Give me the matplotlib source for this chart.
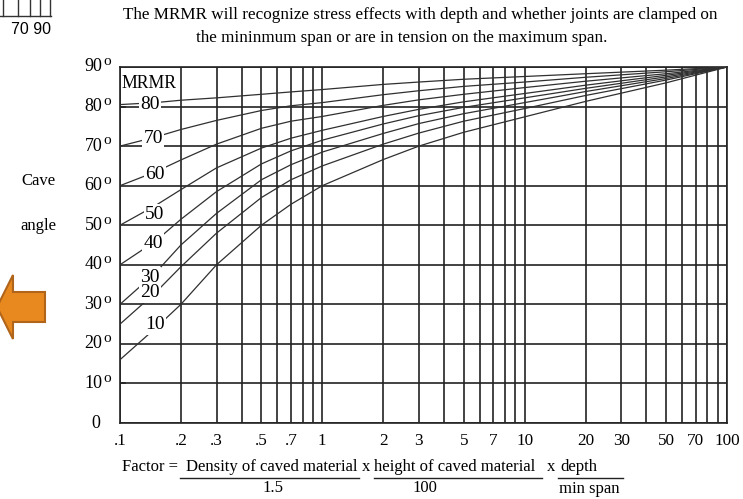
import matplotlib.pyplot as plt
from matplotlib.lines import Line2D
from matplotlib.patches import Polygon

plt.rcParams['font.family'] = ['Liberation Serif', 'DejaVu Serif']

# factor axis (log) and cave angle (degrees) for each MRMR class
factor = [0.1, 0.15, 0.2, 0.3, 0.5, 0.7, 1, 2, 3, 5, 10, 20, 50, 100]
mrmr_80 = [80.5, 81.0, 81.6, 82.2, 83.1, 83.7, 84.3, 85.6, 86.2, 86.9, 87.6, 88.3, 89.2, 90]
mrmr_70 = [70, 72.3, 74.2, 76.5, 79.0, 80.2, 81.0, 83.0, 84.0, 85.1, 86.2, 87.4, 88.8, 90]
mrmr_60 = [60, 63.5, 66.5, 70.5, 74.5, 76.3, 77.5, 80.3, 81.7, 83.1, 84.8, 86.4, 88.3, 90]
mrmr_50 = [50, 55.0, 59.0, 64.5, 69.5, 72.0, 74.0, 77.5, 79.3, 81.2, 83.3, 85.4, 87.9, 90]
mrmr_40 = [40, 46.0, 51.5, 58.5, 65.5, 68.8, 71.5, 75.6, 77.7, 79.8, 82.2, 84.6, 87.5, 90]
mrmr_30 = [30, 38.0, 45.0, 53.0, 61.5, 65.3, 68.5, 73.2, 75.7, 78.2, 81.0, 83.8, 87.1, 90]
mrmr_20 = [25, 33.0, 39.5, 48.0, 57.0, 61.5, 65.0, 70.5, 73.3, 76.3, 79.5, 82.8, 86.7, 90]
mrmr_10 = [16, 24.0, 30.0, 40.0, 50.0, 55.3, 60.0, 66.6, 70.0, 73.5, 77.4, 81.3, 86.0, 90]
curves = [mrmr_80, mrmr_70, mrmr_60, mrmr_50, mrmr_40, mrmr_30, mrmr_20, mrmr_10]

# curve labels: text, factor, angle
label_text = ['80', '70', '60', '50', '40', '30', '20', '10']
label_x = [0.141, 0.146, 0.149, 0.149, 0.146, 0.141, 0.141, 0.149]
label_y = [80.4, 71.8, 62.9, 52.8, 45.5, 36.9, 32.9, 24.8]

x_ticks = [0.1, 0.2, 0.3, 0.5, 0.7, 1, 2, 3, 5, 7, 10, 20, 30, 50, 70, 100]
x_tick_labels = ['.1', '.2', '.3', '.5', '.7', '1', '2', '3', '5', '7', '10', '20', '30', '50', '70', '100']
y_ticks = [0, 10, 20, 30, 40, 50, 60, 70, 80, 90]

W, H = 743, 499
fig = plt.figure(figsize=(W / 100, H / 100), dpi=100)
ax = fig.add_axes([120 / W, 1 - 423 / H, 607 / W, 356 / H])

grid_col = '#222222'
ax.set_xscale('log')
ax.set_xlim(0.1, 100)
ax.set_ylim(0, 90)
ax.set_yticks(y_ticks)
ax.set_yticklabels([])
ax.set_xticks(x_ticks)
ax.set_xticklabels(x_tick_labels, fontsize=12.3)
ax.tick_params(which='both', length=0)
ax.tick_params(axis='x', pad=7)
ax.grid(True, which='both', color=grid_col, lw=1.2)
for s in ax.spines.values():
    s.set_color(grid_col)
    s.set_linewidth(1.2)

for vals in curves:
    ax.plot(factor, vals, color='#303030', lw=0.9, zorder=3)

for t, lx, ly in zip(label_text, label_x, label_y):
    ax.text(lx, ly, t, fontsize=14, ha='center', va='center', zorder=5,
            bbox=dict(fc='white', ec='none', pad=1.0))
ax.text(0.1015, 85.8, 'MRMR', fontsize=12.8, ha='left', va='center', zorder=5)

# short ticks inside the frame
for v in [80, 10]:
    ax.plot([0.1, 0.106], [v, v], color=grid_col, lw=1.2, zorder=4)

# degree tick labels on the angle axis
ytr = ax.get_yaxis_transform()
for v in y_ticks:
    if v == 0:
        ax.text(-0.0325, v, '0', transform=ytr, fontsize=13, ha='right', va='center', clip_on=False)
    else:
        ax.text(-0.029, v, str(v), transform=ytr, fontsize=13, ha='right', va='center', clip_on=False)
        ax.text(-0.0275, v + 1.3, 'o', transform=ytr, fontsize=11, ha='left', va='center', clip_on=False)

fig.text(38 / W, 1 - 181 / H, 'Cave', fontsize=12, ha='center', va='center')
fig.text(38 / W, 1 - 226 / H, 'angle', fontsize=12, ha='center', va='center')

fig.text(420 / W, 1 - 15 / H,
         'The MRMR will recognize stress effects with depth and whether joints are clamped on',
         fontsize=12.3, ha='center', va='center')
fig.text(402 / W, 1 - 38 / H,
         'the mininmum span or are in tension on the maximum span.',
         fontsize=12.3, ha='center', va='center')

# factor definition below the axis
fs = 12.0
num_y = 1 - 467 / H
fig.text(122 / W, num_y, 'Factor = ', fontsize=fs, ha='left', va='center')
fig.text(186 / W, num_y, 'Density of caved material', fontsize=fs, ha='left', va='center')
fig.text(366 / W, num_y, 'x', fontsize=fs, ha='center', va='center')
fig.text(374 / W, num_y, 'height of caved material', fontsize=fs, ha='left', va='center')
fig.text(551 / W, num_y, 'x', fontsize=fs, ha='center', va='center')
fig.text(560 / W, num_y, 'depth', fontsize=fs, ha='left', va='center')
for x0, x1 in [(180, 359), (374, 542), (558, 623)]:
    fig.add_artist(Line2D([x0 / W, x1 / W], [1 - 478 / H] * 2, color='#222222', lw=1.0))
fig.text(273 / W, 1 - 488 / H, '1.5', fontsize=fs, ha='center', va='center')
fig.text(425 / W, 1 - 488 / H, '100', fontsize=fs, ha='center', va='center')
fig.text(589 / W, 1 - 489 / H, 'min span', fontsize=fs, ha='center', va='center')

# orange arrow pointing left
arrow_px = [(-3, 307), (13, 275), (13, 292), (45, 292), (45, 322), (13, 322), (13, 339)]
fig.add_artist(Polygon([(x / W, 1 - y / H) for x, y in arrow_px], closed=True,
                       fc='#E8891F', ec='#B0651A', lw=1.5))

# piece of a neighbouring table in the corner
fig.add_artist(Line2D([0, 51 / W], [1 - 16 / H] * 2, color='#333333', lw=1.0))
for xv in [3, 18, 30, 40, 50]:
    fig.add_artist(Line2D([xv / W] * 2, [1, 1 - 16 / H], color='#333333', lw=1.0))
fig.text(31 / W, 1 - 30 / H, '70 90', fontsize=11.5, ha='center', va='center',
         family='Liberation Sans')

fig.savefig('out.png', dpi=100)
